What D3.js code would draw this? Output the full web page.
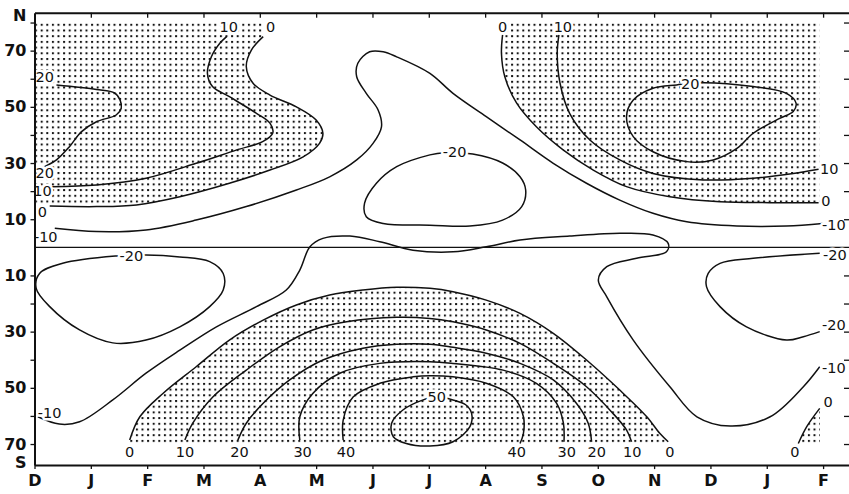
<!DOCTYPE html>
<html>
<head>
<meta charset="utf-8">
<script src="https://cdn.jsdelivr.net/npm/d3@7"></script>
<style>
  html, body { margin: 0; padding: 0; background: #fff; }
  svg { display: block; }
</style>
</head>
<body>
<svg id="chart" width="849" height="494"></svg>
<script>
// Month axis: index 0 = December, running through to the following February
const monthLabels = ["D","J","F","M","A","M","J","J","A","S","O","N","D","J","F"];
const monthTicks = d3.range(monthLabels.length);

// Latitude ticks (degrees, south negative) and which of them carry a number
const latTicks = [80,70,60,50,40,30,20,10,-10,-20,-30,-40,-50,-60,-70];
const latLabelled = [70,50,30,10,-10,-30,-50,-70];

// Isolines as [month index, latitude]
const nw_p20 = [[0.39,57.8],[1.10,56.2],[1.42,55.0],[1.52,52.4],[1.54,49.5],[1.45,47.1],[1.10,44.7],[0.83,41.1],[0.62,35.8],[0.39,31.1],[0.18,28.7]];
const nw_p10 = [[0.30,21.6],[1.10,22.2],[1.98,24.6],[2.87,29.9],[3.58,34.6],[4.05,37.6],[4.23,40.7],[4.18,44.2],[3.94,47.7],[3.46,53.6],[3.16,57.2],[3.07,61.9],[3.14,67.8],[3.29,72.6],[3.41,75.0]];
const nw_zero = [[0.27,14.7],[1.10,14.5],[1.81,15.1],[2.58,18.0],[3.46,22.8],[4.18,27.5],[4.77,32.2],[5.06,37.0],[5.12,40.6],[5.00,45.3],[4.65,50.0],[4.18,54.2],[3.88,58.4],[3.76,64.3],[3.85,70.2],[4.06,75.0]];
const n_m10 = [[0.36,6.8],[1.10,5.6],[1.98,6.2],[2.87,9.7],[3.76,14.5],[4.65,20.4],[5.24,25.1],[5.72,31.1],[6.01,37.0],[6.16,42.9],[6.10,48.9],[5.89,54.8],[5.72,60.7],[5.74,65.5],[5.95,69.6],[6.19,69.6],[6.43,67.8],[7.02,61.9],[7.43,54.8],[8.02,46.5],[8.62,38.2],[9.21,29.9],[9.80,22.8],[10.39,16.8],[10.98,12.1],[11.58,9.1],[12.47,7.6],[13.35,7.6],[13.99,8.5]];
const n_m20 = [[7.78,33.2],[8.31,30.0],[8.62,25.1],[8.72,20.4],[8.65,14.5],[8.31,9.7],[7.73,7.6],[7.02,7.9],[6.19,8.5],[5.89,10.9],[5.86,15.7],[6.07,22.8],[6.43,28.7],[7.02,32.9],[7.28,33.7]];
const ne_zero = [[8.31,75.6],[8.29,69.0],[8.35,60.7],[8.56,51.3],[8.91,42.9],[9.39,34.6],[9.92,27.5],[10.51,21.6],[11.28,18.0],[12.17,16.2],[13.06,15.9],[13.92,15.9]];
const ne_p10 = [[9.31,75.6],[9.28,69.0],[9.33,58.4],[9.50,47.7],[9.86,38.2],[10.39,31.1],[10.98,26.3],[11.87,24.0],[12.76,24.6],[13.47,26.3],[13.92,27.8]];
const ne_p20 = [[11.87,58.6],[12.76,57.2],[13.35,54.8],[13.52,51.3],[13.47,48.3],[13.23,45.9],[12.76,40.6],[12.47,35.2],[12.05,31.1],[11.58,30.5],[10.98,34.0],[10.63,39.4],[10.51,46.5],[10.63,52.4],[10.98,56.6],[11.40,57.8]];
const sw_m20 = [[1.98,-2.7],[2.58,-3.4],[3.11,-5.1],[3.35,-9.3],[3.35,-15.2],[3.11,-21.1],[2.58,-28.3],[1.98,-33.0],[1.39,-34.0],[0.80,-29.4],[0.27,-21.1],[0.03,-14.6],[0.09,-9.3],[0.50,-5.7],[1.45,-3.1]];
const s_m10 = [[0.06,-60.3],[0.44,-62.9],[0.80,-62.1],[1.39,-54.3],[1.98,-44.8],[2.58,-36.6],[3.23,-28.3],[3.94,-21.1],[4.47,-15.2],[4.71,-8.1],[4.89,0.2],[5.12,3.2],[5.60,4.0],[6.13,2.0],[6.72,-1.0],[7.43,-1.6],[8.02,0.2],[8.62,2.6],[9.50,4.0],[10.39,5.0],[10.98,4.4],[11.25,1.4],[11.22,-1.6],[10.69,-3.9],[10.16,-6.9],[10.01,-11.6],[10.16,-17.6],[10.63,-33.0],[11.28,-49.6],[11.76,-60.3],[12.35,-63.6],[13.06,-60.3],[13.65,-49.6],[13.94,-42.5]];
const se_m20 = [[13.94,-2.1],[12.76,-3.9],[12.17,-5.7],[11.96,-9.3],[11.93,-14.0],[12.17,-21.1],[12.64,-28.3],[13.35,-33.0],[13.65,-31.8],[13.94,-30.0]];
const se_zero = [[13.56,-69.8],[13.71,-63.8],[13.94,-57.3]];
const s_zero = [[1.69,-68.6],[1.87,-60.3],[2.28,-52.0],[2.87,-42.5],[3.46,-33.0],[4.06,-25.9],[4.65,-20.5],[5.24,-17.0],[5.83,-15.2],[6.43,-14.2],[7.02,-14.6],[7.43,-15.8],[8.02,-18.8],[8.62,-23.5],[9.21,-30.6],[9.80,-40.1],[10.39,-50.8],[10.87,-60.3],[11.10,-66.2],[11.25,-69.2]];
const s_p10 = [[2.67,-68.6],[2.81,-62.6],[3.17,-53.2],[3.76,-43.7],[4.35,-35.4],[4.94,-29.4],[5.54,-26.5],[6.43,-24.9],[7.02,-25.3],[7.43,-26.5],[8.02,-29.4],[8.62,-34.2],[9.21,-41.3],[9.80,-49.6],[10.27,-59.1],[10.51,-65.0],[10.60,-69.2]];
const s_p20 = [[3.61,-68.6],[3.76,-62.6],[4.06,-55.5],[4.53,-47.2],[5.12,-40.1],[5.83,-35.9],[6.43,-34.5],[7.02,-34.5],[7.43,-35.6],[8.02,-37.7],[8.62,-41.3],[9.21,-47.2],[9.62,-55.5],[9.83,-62.6],[9.89,-69.2]];
const s_p30 = [[4.71,-68.6],[4.71,-60.3],[4.94,-52.0],[5.42,-44.8],[6.13,-41.3],[7.02,-40.7],[7.43,-41.3],[8.32,-43.7],[8.91,-48.4],[9.27,-55.5],[9.39,-62.6],[9.40,-69.2]];
const s_p40 = [[5.48,-68.6],[5.48,-61.5],[5.66,-53.2],[6.13,-48.4],[6.72,-46.1],[7.02,-45.7],[7.43,-46.1],[8.02,-48.4],[8.50,-53.2],[8.68,-60.3],[8.68,-66.2],[8.62,-69.8]];
const s_p50 = [[7.43,-54.3],[7.66,-56.1],[7.76,-59.1],[7.73,-63.8],[7.43,-69.2],[7.02,-70.7],[6.60,-69.8],[6.37,-67.4],[6.34,-62.6],[6.54,-57.9],[6.90,-54.3],[7.14,-53.2]];

const openLines = [nw_p20, nw_p10, nw_zero, n_m10, ne_zero, ne_p10, s_m10, se_m20, se_zero, s_zero, s_p10, s_p20, s_p30, s_p40];
const closedLines = [n_m20, ne_p20, sw_m20, s_p50];

// Positive areas are stippled: bounded by a zero line and the edge of the data field
const stippled = [
  { edge: nw_zero, rim: [[4.06,80],[0.03,80],[0.03,14.7]] },
  { edge: ne_zero, rim: [[13.93,15.9],[13.93,80],[8.31,80]] },
  { edge: s_zero,  rim: [[11.25,-69.6],[1.69,-69.6]] },
  { edge: se_zero, rim: [[13.94,-69.8]] }
];

// Isoline values written on the chart: [text, month index, latitude]
const contourLabels = [
  ["20",0.18,60.6],["20",0.18,26.4],["10",0.14,20.0],["0",0.14,12.6],["-10",0.20,3.8],
  ["10",3.45,78.4],["0",4.19,78.4],["-20",7.46,33.9],["0",8.31,78.4],["10",9.38,78.4],["20",11.64,58.1],
  ["10",14.11,27.8],["0",14.05,16.5],["-10",14.19,7.9],
  ["-20",1.72,-3.1],["-10",0.27,-58.9],["-20",14.21,-2.7],["-20",14.19,-27.6],["-10",14.19,-42.9],["0",14.09,-55.0],["0",13.50,-72.9],
  ["0",1.69,-72.9],["10",2.67,-72.9],["20",3.64,-72.9],["30",4.76,-72.9],["40",5.53,-72.9],["50",7.14,-53.2],
  ["40",8.56,-72.9],["30",9.45,-72.9],["20",9.98,-72.9],["10",10.61,-72.9],["0",11.28,-72.9]
];

const svg = d3.select("#chart");
const x = d3.scaleLinear().domain([0, 14.46]).range([34.5, 849]);
const y = d3.scaleLinear().domain([-77.5, 83.5]).range([465.1, 12.7]);

const axisFont = "'DejaVu Sans', sans-serif";
const labelFont = "'DejaVu Sans', sans-serif";

// Stipple pattern
const defs = svg.append("defs");
const pat = defs.append("pattern").attr("id", "dots")
  .attr("patternUnits", "userSpaceOnUse").attr("width", 5.6).attr("height", 5.7)
  .attr("x", 1.5).attr("y", 1);
pat.append("rect").attr("x", 0).attr("y", 0).attr("width", 2).attr("height", 2).attr("fill", "#151515");

defs.append("clipPath").attr("id", "plotClip").append("rect")
  .attr("x", x(0)).attr("y", y(83.5)).attr("width", x(14.46) - x(0)).attr("height", y(-77.5) - y(83.5));

const plot = svg.append("g").attr("clip-path", "url(#plotClip)");

const openCurve = d3.line().x(d => x(d[0])).y(d => y(d[1])).curve(d3.curveCatmullRom.alpha(0.5));
const closedCurve = d3.line().x(d => x(d[0])).y(d => y(d[1])).curve(d3.curveCatmullRomClosed.alpha(0.5));

plot.selectAll("path.stipple").data(stippled).join("path")
  .attr("class", "stipple")
  .attr("d", r => openCurve(r.edge) + r.rim.map(c => "L" + x(c[0]) + "," + y(c[1])).join("") + "Z")
  .attr("fill", "url(#dots)").attr("stroke", "none");

// Equator
plot.append("line")
  .attr("x1", x(0)).attr("x2", x(14.46)).attr("y1", y(0)).attr("y2", y(0))
  .attr("stroke", "#111").attr("stroke-width", 1.4);

plot.selectAll("path.open").data(openLines).join("path")
  .attr("class", "open").attr("d", openCurve)
  .attr("fill", "none").attr("stroke", "#111").attr("stroke-width", 1.5);

plot.selectAll("path.closed").data(closedLines).join("path")
  .attr("class", "closed").attr("d", closedCurve)
  .attr("fill", "none").attr("stroke", "#111").attr("stroke-width", 1.5);

svg.append("g").selectAll("text").data(contourLabels).join("text")
  .attr("x", d => x(d[1])).attr("y", d => y(d[2]))
  .attr("dy", "0.36em").attr("text-anchor", "middle")
  .attr("font-family", labelFont).attr("font-size", 14.5)
  .attr("fill", "#111")
  .attr("stroke", "#fff").attr("stroke-width", 5).attr("stroke-linejoin", "round")
  .attr("paint-order", "stroke")
  .text(d => d[0]);

// Frame and axes
function styleAxis(g) {
  g.select(".domain").attr("stroke", "#111").attr("stroke-width", 2);
  g.selectAll(".tick line").attr("stroke", "#111").attr("stroke-width", 1.3);
  g.selectAll(".tick text").attr("fill", "#111");
  g.attr("font-family", axisFont).attr("font-size", 16).attr("font-weight", "bold");
}

svg.append("g").attr("transform", `translate(0,${y(-77.5)})`)
  .call(d3.axisBottom(x).tickValues(monthTicks).tickFormat(i => monthLabels[i])
    .tickSize(4).tickPadding(6).tickSizeOuter(0))
  .call(styleAxis);

svg.append("g").attr("transform", `translate(0,${y(83.5)})`)
  .call(d3.axisTop(x).tickValues(monthTicks.slice(1)).tickFormat("")
    .tickSize(-5).tickSizeOuter(0))
  .call(styleAxis);

svg.append("g").attr("transform", `translate(${x(0)},0)`)
  .call(d3.axisLeft(y).tickValues(latTicks)
    .tickFormat(d => latLabelled.includes(d) ? Math.abs(d) : "")
    .tickSize(4).tickPadding(4).tickSizeOuter(0))
  .call(styleAxis);

const right = svg.append("g").attr("transform", `translate(${x(14.46)},0)`)
  .call(d3.axisRight(y).tickValues(latTicks).tickFormat("").tickSize(-5).tickSizeOuter(0))
  .call(styleAxis);
right.select(".domain").remove();

// Hemisphere letters on the latitude axis
svg.append("g").selectAll("text").data([["N", 82.5], ["S", -76.4]]).join("text")
  .attr("x", x(0) - 8).attr("y", d => y(d[1])).attr("dy", "0.36em")
  .attr("text-anchor", "end")
  .attr("font-family", axisFont).attr("font-size", 16).attr("font-weight", "bold")
  .attr("fill", "#111")
  .text(d => d[0]);
</script>
</body>
</html>
